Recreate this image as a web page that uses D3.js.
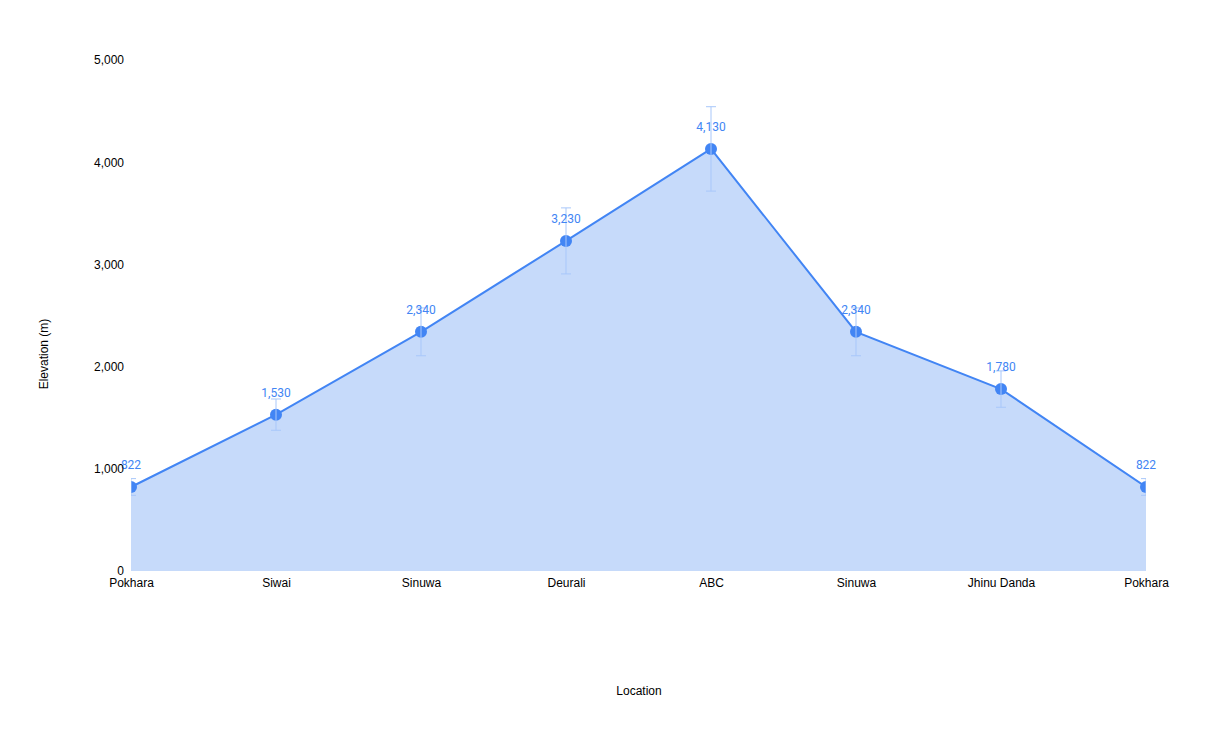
<!DOCTYPE html>
<html><head><meta charset="utf-8">
<script src="https://cdn.jsdelivr.net/npm/d3@7"></script>
<style>body{margin:0;background:#fff;font-family:Arial,"Liberation Sans",sans-serif;}</style>
</head><body>
<svg id="c" width="1212" height="749"></svg>
<script>
const categories = ["Pokhara","Siwai","Sinuwa","Deurali","ABC","Sinuwa","Jhinu Danda","Pokhara"];
const elevations = [822,1530,2340,3230,4130,2340,1780,822];
const errors = [82,153,234,323,413,234,178,82];
const yTicks = [0,1000,2000,3000,4000,5000];

const svg = d3.select("#c");
const m = {l:131, r:1146, t:60, b:571};
const x = d3.scalePoint().domain(d3.range(categories.length)).range([m.l, m.r]);
const y = d3.scaleLinear().domain([0,5000]).range([m.b, m.t]);
const fmt = d3.format(",");
const axisFont = 'Arial,"Liberation Sans",sans-serif';

svg.append("defs").append("clipPath").attr("id","clip")
  .append("rect").attr("x",m.l).attr("y",0).attr("width",m.r-m.l).attr("height",m.b);

const g = svg.append("g").attr("clip-path","url(#clip)");
const data = elevations.map((v,i)=>({i,v,e:errors[i]}));

g.append("path").datum(data)
  .attr("d", d3.area().x(d=>x(d.i)).y0(y(0)).y1(d=>y(d.v)))
  .attr("fill","#c6dafa");

// error bars
const eb = svg.append("g").attr("stroke","#a8c7fa").attr("stroke-width",1).attr("clip-path","url(#clip)");
data.forEach(d=>{
  const cx = x(d.i), t = y(d.v+d.e), b = y(d.v-d.e);
  eb.append("line").attr("x1",cx).attr("x2",cx).attr("y1",t).attr("y2",b);
  eb.append("line").attr("x1",cx-5).attr("x2",cx+5).attr("y1",t).attr("y2",t);
  eb.append("line").attr("x1",cx-5).attr("x2",cx+5).attr("y1",b).attr("y2",b);
});

g.append("path").datum(data)
  .attr("d", d3.line().x(d=>x(d.i)).y(d=>y(d.v)))
  .attr("fill","none").attr("stroke","#4285f4").attr("stroke-width",2);

g.selectAll("circle").data(data).join("circle")
  .attr("cx",d=>x(d.i)).attr("cy",d=>y(d.v)).attr("r",6).attr("fill","#4285f4");

svg.append("g").selectAll("text").data(data).join("text")
  .attr("x",d=>x(d.i)).attr("y",d=>y(d.v)-18)
  .attr("text-anchor","middle").attr("font-size",12).attr("fill","#4285f4")
  .attr("font-family","Roboto,sans-serif")
  .text(d=>fmt(d.v));

// y axis
const yAxis = svg.append("g").attr("transform",`translate(${m.l},0)`)
  .call(d3.axisLeft(y).tickValues(yTicks).tickFormat(fmt).tickSize(0).tickPadding(7));
yAxis.select(".domain").remove();
yAxis.selectAll("text").attr("font-size",12).attr("fill","#000").attr("font-family",axisFont);

// x axis
const xAxis = svg.append("g").attr("transform",`translate(0,${m.b})`)
  .call(d3.axisBottom(x).tickFormat(i=>categories[i]).tickSize(0).tickPadding(7));
xAxis.select(".domain").remove();
xAxis.selectAll("text").attr("font-size",12).attr("fill","#000").attr("font-family",axisFont);

svg.append("text").attr("x",639).attr("y",695).attr("text-anchor","middle")
  .attr("font-size",12).attr("fill","#000").attr("font-family",axisFont).text("Location");
svg.append("text").attr("transform","translate(48,354) rotate(-90)").attr("text-anchor","middle")
  .attr("font-size",12).attr("fill","#000").attr("font-family",axisFont).text("Elevation (m)");
</script>
</body></html>
